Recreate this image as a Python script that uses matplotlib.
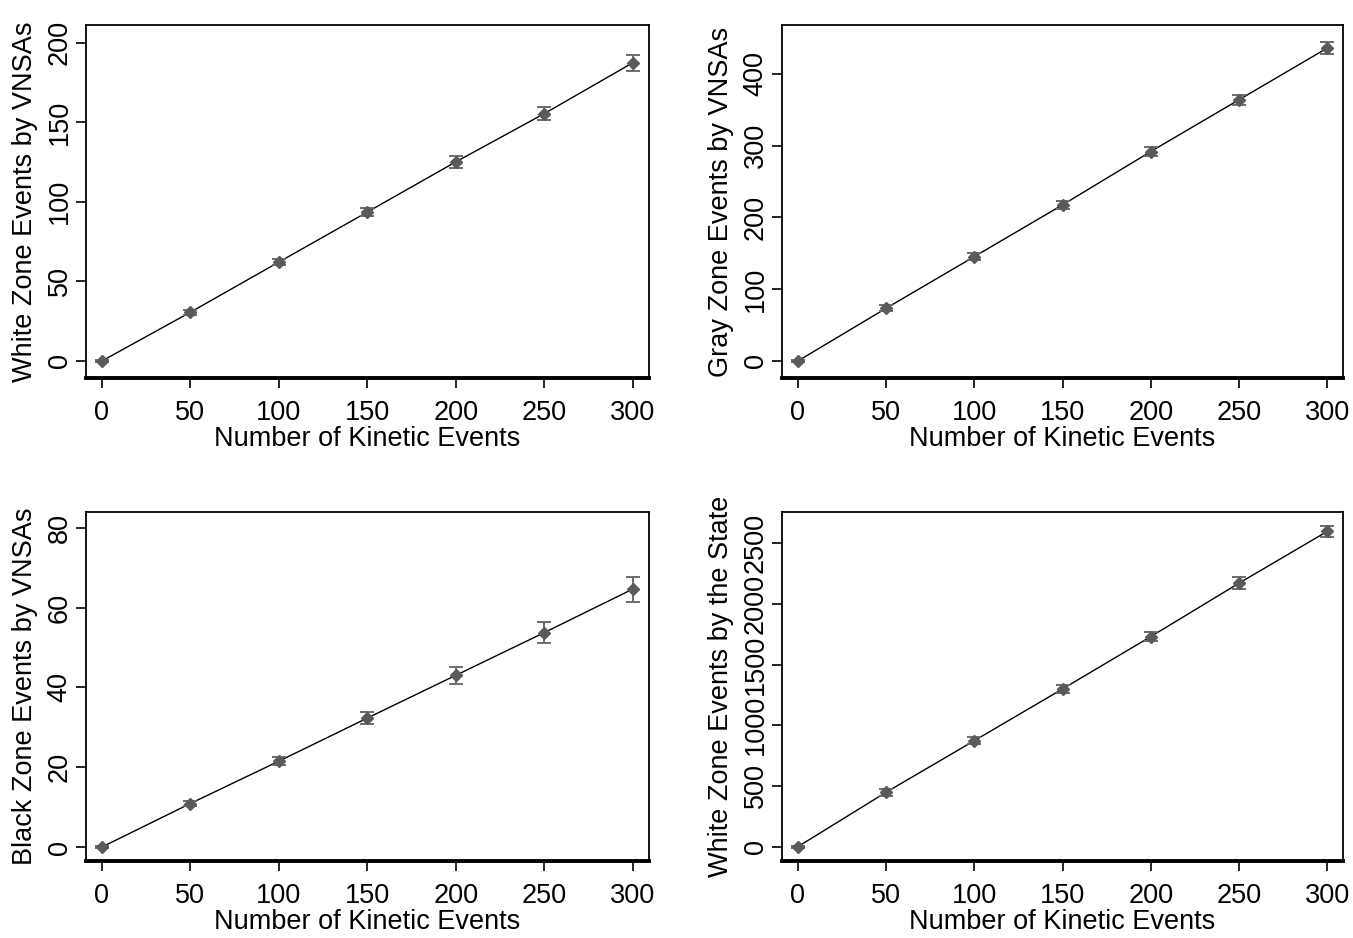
import matplotlib
matplotlib.use("Agg")
import matplotlib.pyplot as plt

plt.rcParams["font.family"] = ["Liberation Sans", "DejaVu Sans"]

kinetic = [0, 50, 100, 150, 200, 250, 300]
x_ticks = [0, 50, 100, 150, 200, 250, 300]

white_vnsa = [0, 30.6, 62.1, 93.5, 125.0, 155.3, 187.2]
white_vnsa_err = [0.5, 1.5, 2.0, 2.5, 3.5, 4.0, 5.2]

gray_vnsa = [0, 73.4, 145.4, 217.4, 291.7, 363.8, 435.8]
gray_vnsa_err = [1.5, 4.0, 5.0, 5.5, 6.0, 7.0, 8.0]

black_vnsa = [0, 10.9, 21.5, 32.3, 43.0, 53.7, 64.6]
black_vnsa_err = [0.2, 0.7, 1.0, 1.6, 2.2, 2.6, 3.1]

white_state = [0, 448, 873, 1299, 1730, 2170, 2596]
white_state_err = [8, 28, 30, 32, 35, 48, 48]

W, H = 1353, 938
LINE = "black"
MARK = "#5a5a5a"
ERR = "#6b6b6b"

fig = plt.figure(figsize=(W / 100, H / 100), dpi=100)
fig.patch.set_facecolor("white")


def px_axes(left, top, right, bottom):
    return fig.add_axes([left / W, 1 - bottom / H,
                         (right - left) / W, (bottom - top) / H])


panels = [
    # (box in pixels, y values, errors, ylim, yticks, ylabel)
    ((86, 25, 648.5, 378), white_vnsa, white_vnsa_err, (-10.7, 211),
     [0, 50, 100, 150, 200], "White Zone Events by VNSAs"),
    ((782, 25, 1343, 378), gray_vnsa, gray_vnsa_err, (-23.7, 468),
     [0, 100, 200, 300, 400], "Gray Zone Events by VNSAs"),
    ((86, 511.7, 648.5, 861), black_vnsa, black_vnsa_err, (-3.5, 84),
     [0, 20, 40, 60, 80], "Black Zone Events by VNSAs"),
    ((782, 511.7, 1343, 861), white_state, white_state_err, (-118, 2759),
     [0, 500, 1000, 1500, 2000, 2500], "White Zone Events by the State"),
]

for box, yv, ye, ylim, yticks, ylabel in panels:
    ax = px_axes(*box)
    ax.plot(kinetic, yv, color=LINE, lw=1.0, zorder=2)
    ax.errorbar(kinetic, yv, yerr=ye, fmt="none", ecolor=ERR,
                elinewidth=1.4, capsize=5, capthick=1.4, zorder=3)
    ax.plot(kinetic, yv, "D", color=MARK, ms=6, mec=MARK, zorder=4)

    ax.set_xlim(-9, 309)
    ax.set_ylim(*ylim)
    ax.set_xticks(x_ticks)
    ax.set_yticks(yticks)

    for side in ("top", "left", "right"):
        ax.spines[side].set_linewidth(1.3)
    ax.spines["bottom"].set_linewidth(2.8)

    ax.tick_params(axis="both", direction="out", length=7.5, width=1.2,
                   labelsize=19.5, colors="black")
    ax.tick_params(axis="x", pad=8)
    ax.tick_params(axis="y", pad=2, labelrotation=90)
    for lbl in ax.get_yticklabels():
        lbl.set_va("center")

    ax.set_xlabel("Number of Kinetic Events", fontsize=19.5, labelpad=0)
    ax.set_ylabel(ylabel, fontsize=19.5, labelpad=6)

fig.savefig("out.png", dpi=100, facecolor="white")
